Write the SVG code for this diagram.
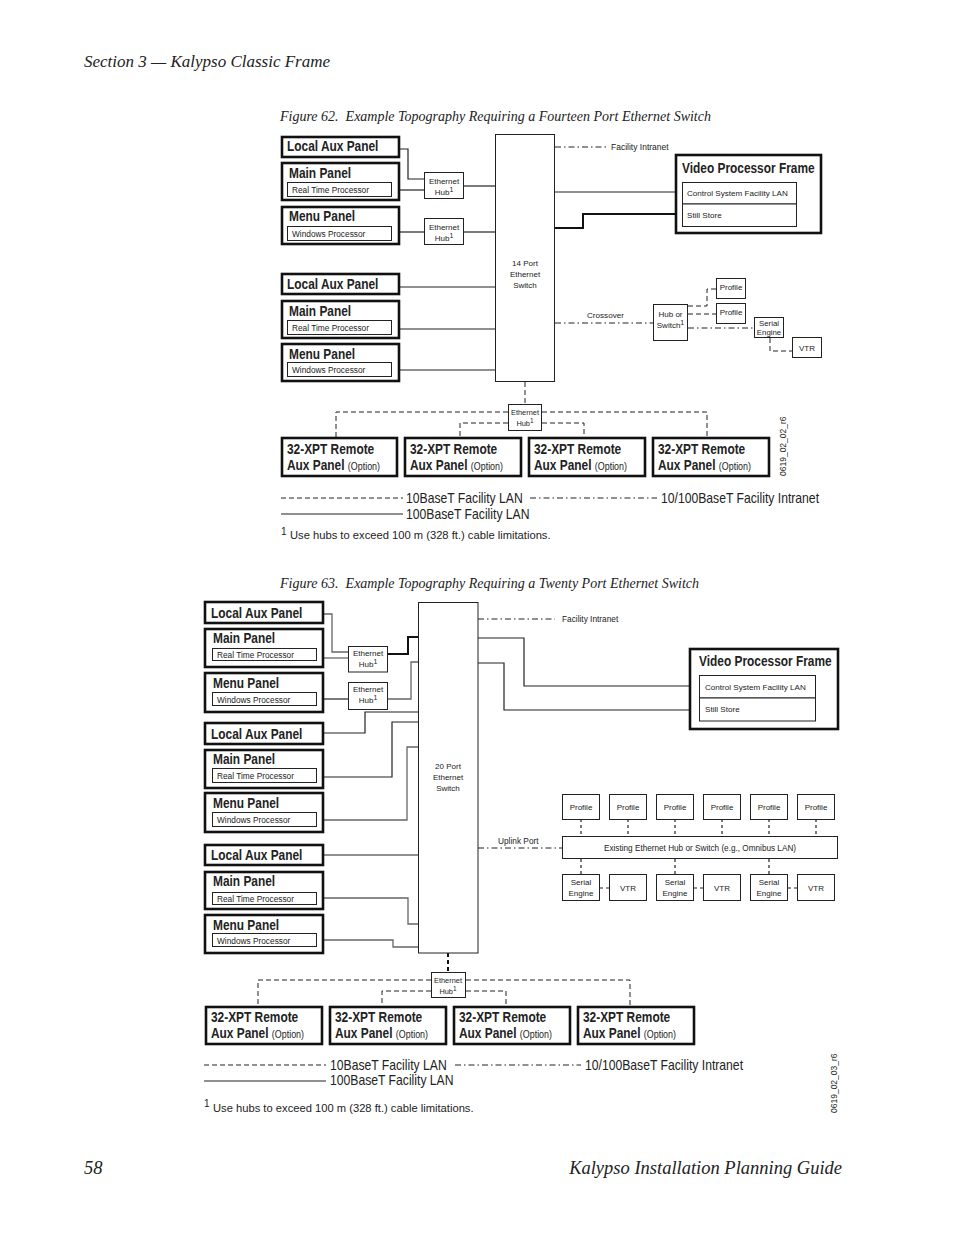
<svg xmlns="http://www.w3.org/2000/svg" width="954" height="1235" viewBox="0 0 954 1235">
<defs>
<style>
.pg{font-family:'Liberation Serif',serif;font-style:italic;fill:#222}
.t{font-family:'Liberation Sans',Arial,sans-serif;fill:#222}
.b{font-weight:bold;font-size:14px;transform-box:fill-box;transform-origin:0 50%;transform:scaleX(.85)}
.lg{font-size:14.5px;transform-box:fill-box;transform-origin:0 50%;transform:scaleX(.84)}
.s{font-size:8.3px}
.xs{font-size:8px}
.h{font-size:7.4px}
.c{text-anchor:middle}
.thick{fill:#fff;stroke:#111;stroke-width:2.6}
.thin{fill:#fff;stroke:#222;stroke-width:1}
.ln{fill:none;stroke:#222;stroke-width:1.2}
.lb{fill:none;stroke:#111;stroke-width:2}
.gl{fill:none;stroke:#666;stroke-width:1.3}
.dash{fill:none;stroke:#222;stroke-width:1;stroke-dasharray:5 3}
.dd{fill:none;stroke:#222;stroke-width:1;stroke-dasharray:6 3 1.5 3}
.dot{fill:none;stroke:#222;stroke-width:1.2;stroke-dasharray:3 3}
.dv{fill:none;stroke:#111;stroke-width:2;stroke-dasharray:4 3}
</style>
</defs>
<rect width="954" height="1235" fill="#fff"/>

<text class="pg" x="84" y="67" font-size="17">Section 3 — Kalypso Classic Frame</text>
<text class="pg" x="84" y="1174" font-size="18.5">58</text>
<text class="pg" x="842" y="1174" font-size="18.5" text-anchor="end">Kalypso Installation Planning Guide</text>

<!-- ================= Figure 62 ================= -->
<text class="pg" x="280" y="121" font-size="14">Figure 62.&#160; Example Topography Requiring a Fourteen Port Ethernet Switch</text>

<g id="f62-connectors">
<path class="ln" d="M399,149 H408 V179 H424"/>
<path class="ln" d="M392,190 H424"/>
<path class="ln" d="M464,186 H495"/>
<path class="ln" d="M392,232 H424"/>
<path class="ln" d="M464,232 H495"/>
<path class="ln" d="M399,287 H495"/>
<path class="ln" d="M392,329 H495"/>
<path class="ln" d="M392,370 H495"/>
<path class="dd" d="M555,147 H607"/>
<path class="ln" d="M555,192 H682"/>
<path class="lb" d="M555,228 H583 V214 H682"/>
<path class="dd" d="M555,323 H653"/>
<path class="dash" d="M688,306 H707 V289 H716"/>
<path class="dash" d="M688,314 H716"/>
<path class="dd" d="M688,328 H754"/>
<path class="dash" d="M770,338 V351 H792"/>
<path class="dash" d="M525,382 V404" stroke-width="1.4"/>
<path class="dash" d="M508,412 H336 V437"/>
<path class="dash" d="M542,412 H707 V437"/>
<path class="dash" d="M508,423 H460 V437"/>
<path class="dash" d="M542,423 H584 V437"/>
</g>

<g id="f62-localaux1"><rect class="thick" x="282" y="137" width="117" height="20"/><text class="t b" x="287" y="151">Local Aux Panel</text></g>
<g id="f62-main1"><rect class="thick" x="282" y="163" width="117" height="37"/><text class="t b" x="289" y="178">Main Panel</text><rect class="thin" x="287.5" y="182.5" width="104" height="14"/><text class="t s" x="292" y="193">Real Time Processor</text></g>
<g id="f62-menu1"><rect class="thick" x="282" y="207" width="117" height="37"/><text class="t b" x="289" y="221">Menu Panel</text><rect class="thin" x="287.5" y="226.5" width="104" height="14"/><text class="t s" x="292" y="237">Windows Processor</text></g>
<g id="f62-hub1"><rect class="thin" x="424.5" y="172.5" width="39" height="26"/><text class="t xs c" x="444" y="184">Ethernet</text><text class="t xs c" x="444" y="194.5">Hub<tspan font-size="7" dy="-3">1</tspan></text></g>
<g id="f62-hub2"><rect class="thin" x="424.5" y="218.5" width="39" height="26"/><text class="t xs c" x="444" y="230">Ethernet</text><text class="t xs c" x="444" y="240.5">Hub<tspan font-size="7" dy="-3">1</tspan></text></g>
<g id="f62-localaux2"><rect class="thick" x="282" y="274" width="117" height="20"/><text class="t b" x="287" y="289">Local Aux Panel</text></g>
<g id="f62-main2"><rect class="thick" x="282" y="301" width="117" height="37"/><text class="t b" x="289" y="316">Main Panel</text><rect class="thin" x="287.5" y="320.5" width="104" height="14"/><text class="t s" x="292" y="331">Real Time Processor</text></g>
<g id="f62-menu2"><rect class="thick" x="282" y="344" width="117" height="37"/><text class="t b" x="289" y="359">Menu Panel</text><rect class="thin" x="287.5" y="362.5" width="104" height="14"/><text class="t s" x="292" y="373">Windows Processor</text></g>
<g id="f62-switch"><rect class="thin" x="495.5" y="134.5" width="59" height="247"/><text class="t xs c" x="525" y="266">14 Port</text><text class="t xs c" x="525" y="277">Ethernet</text><text class="t xs c" x="525" y="288">Switch</text></g>
<text class="t" font-size="8.5" x="611" y="150">Facility Intranet</text>
<g id="f62-vpf"><rect class="thick" x="676" y="155" width="145" height="78"/><text class="t b" x="682" y="173">Video Processor Frame</text><rect class="thin" x="682.5" y="182.5" width="114" height="21.5"/><text class="t" font-size="8.1" x="687" y="196">Control System Facility LAN</text><rect class="thin" x="682.5" y="204" width="114" height="22.5"/><text class="t" font-size="8.1" x="687" y="218">Still Store</text></g>
<text class="t" font-size="8.1" x="587" y="318">Crossover</text>
<g id="f62-hubsw"><rect class="thin" x="653.5" y="304.5" width="34" height="36"/><text class="t xs c" x="670.5" y="317">Hub or</text><text class="t xs c" x="670.5" y="328">Switch<tspan font-size="7" dy="-3">1</tspan></text></g>
<g id="f62-profile1"><rect class="thin" x="716.5" y="278.5" width="29" height="20"/><text class="t xs c" x="731" y="290">Profile</text></g>
<g id="f62-profile2"><rect class="thin" x="716.5" y="303.5" width="29" height="20"/><text class="t xs c" x="731" y="315">Profile</text></g>
<g id="f62-serial"><rect class="thin" x="754.5" y="317.5" width="29" height="20"/><text class="t c" font-size="7.8" x="769" y="325.5">Serial</text><text class="t c" font-size="7.8" x="769" y="334.5">Engine</text></g>
<g id="f62-vtr"><rect class="thin" x="792.5" y="337.5" width="29" height="20"/><text class="t xs c" x="807" y="351">VTR</text></g>
<g id="f62-hub3"><rect class="thin" x="508.5" y="404.5" width="33" height="26"/><text class="t h c" x="525" y="415">Ethernet</text><text class="t h c" x="525" y="426">Hub<tspan font-size="6.5" dy="-3">1</tspan></text></g>
<g id="f62-xpt1"><rect class="thick" x="282" y="438" width="115" height="38"/><text class="t b" x="287" y="454">32-XPT Remote</text><text class="t b" x="287" y="470">Aux Panel <tspan font-weight="normal" font-size="10.5">(Option)</tspan></text></g>
<g id="f62-xpt2"><rect class="thick" x="405" y="438" width="116" height="38"/><text class="t b" x="410" y="454">32-XPT Remote</text><text class="t b" x="410" y="470">Aux Panel <tspan font-weight="normal" font-size="10.5">(Option)</tspan></text></g>
<g id="f62-xpt3"><rect class="thick" x="529" y="438" width="116" height="38"/><text class="t b" x="534" y="454">32-XPT Remote</text><text class="t b" x="534" y="470">Aux Panel <tspan font-weight="normal" font-size="10.5">(Option)</tspan></text></g>
<g id="f62-xpt4"><rect class="thick" x="653" y="438" width="116" height="38"/><text class="t b" x="658" y="454">32-XPT Remote</text><text class="t b" x="658" y="470">Aux Panel <tspan font-weight="normal" font-size="10.5">(Option)</tspan></text></g>
<text class="t" font-size="8.5" transform="translate(786,476) rotate(-90)">0619_02_02_r6</text>

<g id="f62-legend">
<path class="dash" d="M281,498 H403"/>
<text class="t lg" x="406" y="503">10BaseT Facility LAN</text>
<path class="dd" d="M530,498 H657"/>
<text class="t lg" x="661" y="503">10/100BaseT Facility Intranet</text>
<path class="ln" d="M281,514 H403"/>
<text class="t lg" x="406" y="519">100BaseT Facility LAN</text>
<text class="t" font-size="10" x="281" y="535">1</text>
<text class="t" font-size="11.2" x="290" y="539">Use hubs to exceed 100 m (328 ft.) cable limitations.</text>
</g>

<!-- ================= Figure 63 ================= -->
<text class="pg" x="280" y="588" font-size="14">Figure 63.&#160; Example Topography Requiring a Twenty Port Ethernet Switch</text>

<g id="f63-connectors">
<path class="gl" d="M323,614 H332 V652 H348"/>
<path class="gl" d="M316,658 H348"/>
<path class="lb" d="M388,654 H408 V637 H418"/>
<path class="ln" d="M316,699 H348"/>
<path class="gl" d="M388,699 H411 V662 H418"/>
<path class="ln" d="M323,733 H365 V712 H418"/>
<path class="ln" d="M316,777 H392 V722 H418"/>
<path class="gl" d="M316,820 H407 V747 H418"/>
<path class="ln" d="M323,855 H418"/>
<path class="gl" d="M316,898 H408 V924 H418"/>
<path class="gl" d="M316,940 H393 V947 H418"/>
<path class="dd" d="M478,619 H555"/>
<path class="ln" d="M478,638 H524 V686 H699"/>
<path class="ln" d="M478,663 H504 V710 H699"/>
<path class="dd" d="M478,848 H562"/>
<path class="dot" d="M581,819 V836"/>
<path class="dot" d="M628,819 V836"/>
<path class="dot" d="M675,819 V836"/>
<path class="dot" d="M722,819 V836"/>
<path class="dot" d="M769,819 V836"/>
<path class="dot" d="M816,819 V836"/>
<path class="dot" d="M581,859 V874"/>
<path class="dot" d="M675,859 V874"/>
<path class="dot" d="M769,859 V874"/>
<path class="dot" d="M600,888 H609"/>
<path class="dot" d="M694,888 H703"/>
<path class="dot" d="M788,888 H797"/>
<path class="dv" d="M448,953 V972"/>
<path class="dash" d="M431,980 H258 V1007"/>
<path class="dash" d="M466,980 H630 V1007"/>
<path class="dash" d="M431,991 H382 V1007"/>
<path class="dash" d="M466,991 H506 V1007"/>
</g>

<g id="f63-localaux1"><rect class="thick" x="205" y="602" width="118" height="21"/><text class="t b" x="211" y="618">Local Aux Panel</text></g>
<g id="f63-main1"><rect class="thick" x="205" y="629" width="118" height="38"/><text class="t b" x="213" y="643">Main Panel</text><rect class="thin" x="212.5" y="648.5" width="104" height="12"/><text class="t s" x="217" y="658">Real Time Processor</text></g>
<g id="f63-menu1"><rect class="thick" x="205" y="673" width="118" height="39"/><text class="t b" x="213" y="688">Menu Panel</text><rect class="thin" x="212.5" y="692.5" width="104" height="13"/><text class="t s" x="217" y="702.5">Windows Processor</text></g>
<g id="f63-hub1"><rect class="thin" x="348.5" y="646.5" width="39" height="25.5"/><text class="t xs c" x="368" y="656">Ethernet</text><text class="t xs c" x="368" y="667">Hub<tspan font-size="7" dy="-3">1</tspan></text></g>
<g id="f63-hub2"><rect class="thin" x="348.5" y="682.5" width="39" height="27"/><text class="t xs c" x="368" y="692">Ethernet</text><text class="t xs c" x="368" y="703">Hub<tspan font-size="7" dy="-3">1</tspan></text></g>
<g id="f63-localaux2"><rect class="thick" x="205" y="723" width="118" height="21"/><text class="t b" x="211" y="739">Local Aux Panel</text></g>
<g id="f63-main2"><rect class="thick" x="205" y="750" width="118" height="38"/><text class="t b" x="213" y="764">Main Panel</text><rect class="thin" x="212.5" y="768.5" width="104" height="14"/><text class="t s" x="217" y="779">Real Time Processor</text></g>
<g id="f63-menu2"><rect class="thick" x="205" y="793" width="118" height="39"/><text class="t b" x="213" y="808">Menu Panel</text><rect class="thin" x="212.5" y="812.5" width="104" height="14"/><text class="t s" x="217" y="823">Windows Processor</text></g>
<g id="f63-localaux3"><rect class="thick" x="205" y="845" width="118" height="20"/><text class="t b" x="211" y="860">Local Aux Panel</text></g>
<g id="f63-main3"><rect class="thick" x="205" y="872" width="118" height="37"/><text class="t b" x="213" y="886">Main Panel</text><rect class="thin" x="212.5" y="892.5" width="104" height="12"/><text class="t s" x="217" y="902">Real Time Processor</text></g>
<g id="f63-menu3"><rect class="thick" x="205" y="915" width="118" height="38"/><text class="t b" x="213" y="930">Menu Panel</text><rect class="thin" x="212.5" y="933.5" width="104" height="13"/><text class="t s" x="217" y="943.5">Windows Processor</text></g>
<g id="f63-switch"><rect class="thin" x="418.5" y="602.5" width="59.5" height="350.5"/><text class="t xs c" x="448" y="769">20 Port</text><text class="t xs c" x="448" y="780">Ethernet</text><text class="t xs c" x="448" y="791">Switch</text></g>
<text class="t" font-size="8.3" x="562" y="622">Facility Intranet</text>
<g id="f63-vpf"><rect class="thick" x="690" y="649" width="148" height="80"/><text class="t b" x="699" y="666">Video Processor Frame</text><rect class="thin" x="699.5" y="675.5" width="116" height="22.5"/><text class="t" font-size="8.1" x="705" y="690">Control System Facility LAN</text><rect class="thin" x="699.5" y="698" width="116" height="23"/><text class="t" font-size="8.1" x="705" y="712">Still Store</text></g>
<g id="f63-profile1"><rect class="thin" x="562.5" y="794.5" width="37" height="25"/><text class="t xs c" x="581" y="810">Profile</text></g>
<g id="f63-profile2"><rect class="thin" x="609.5" y="794.5" width="37" height="25"/><text class="t xs c" x="628" y="810">Profile</text></g>
<g id="f63-profile3"><rect class="thin" x="656.5" y="794.5" width="37" height="25"/><text class="t xs c" x="675" y="810">Profile</text></g>
<g id="f63-profile4"><rect class="thin" x="703.5" y="794.5" width="37" height="25"/><text class="t xs c" x="722" y="810">Profile</text></g>
<g id="f63-profile5"><rect class="thin" x="750.5" y="794.5" width="37" height="25"/><text class="t xs c" x="769" y="810">Profile</text></g>
<g id="f63-profile6"><rect class="thin" x="797.5" y="794.5" width="37" height="25"/><text class="t xs c" x="816" y="810">Profile</text></g>
<text class="t" font-size="8.3" x="498" y="844">Uplink Port</text>
<g id="f63-existinghub"><rect class="thin" x="562.5" y="836.5" width="275" height="22"/><text class="t c" font-size="8.2" x="700" y="851">Existing Ethernet Hub or Switch (e.g., Omnibus LAN)</text></g>
<g id="f63-serial1"><rect class="thin" x="562.5" y="874.5" width="37" height="26"/><text class="t xs c" x="581" y="885">Serial</text><text class="t xs c" x="581" y="896">Engine</text></g>
<g id="f63-vtr1"><rect class="thin" x="609.5" y="874.5" width="37" height="26"/><text class="t xs c" x="628" y="891">VTR</text></g>
<g id="f63-serial2"><rect class="thin" x="656.5" y="874.5" width="37" height="26"/><text class="t xs c" x="675" y="885">Serial</text><text class="t xs c" x="675" y="896">Engine</text></g>
<g id="f63-vtr2"><rect class="thin" x="703.5" y="874.5" width="37" height="26"/><text class="t xs c" x="722" y="891">VTR</text></g>
<g id="f63-serial3"><rect class="thin" x="750.5" y="874.5" width="37" height="26"/><text class="t xs c" x="769" y="885">Serial</text><text class="t xs c" x="769" y="896">Engine</text></g>
<g id="f63-vtr3"><rect class="thin" x="797.5" y="874.5" width="37" height="26"/><text class="t xs c" x="816" y="891">VTR</text></g>
<g id="f63-hub3"><rect class="thin" x="431.5" y="972.5" width="34" height="25"/><text class="t h c" x="448" y="982.5">Ethernet</text><text class="t h c" x="448" y="993.5">Hub<tspan font-size="6.5" dy="-3">1</tspan></text></g>
<g id="f63-xpt1"><rect class="thick" x="206" y="1007" width="116" height="37"/><text class="t b" x="211" y="1022">32-XPT Remote</text><text class="t b" x="211" y="1038">Aux Panel <tspan font-weight="normal" font-size="10.5">(Option)</tspan></text></g>
<g id="f63-xpt2"><rect class="thick" x="330" y="1007" width="116" height="37"/><text class="t b" x="335" y="1022">32-XPT Remote</text><text class="t b" x="335" y="1038">Aux Panel <tspan font-weight="normal" font-size="10.5">(Option)</tspan></text></g>
<g id="f63-xpt3"><rect class="thick" x="454" y="1007" width="116" height="37"/><text class="t b" x="459" y="1022">32-XPT Remote</text><text class="t b" x="459" y="1038">Aux Panel <tspan font-weight="normal" font-size="10.5">(Option)</tspan></text></g>
<g id="f63-xpt4"><rect class="thick" x="578" y="1007" width="116" height="37"/><text class="t b" x="583" y="1022">32-XPT Remote</text><text class="t b" x="583" y="1038">Aux Panel <tspan font-weight="normal" font-size="10.5">(Option)</tspan></text></g>

<g id="f63-legend">
<path class="dash" d="M204,1065 H326"/>
<text class="t lg" x="330" y="1070">10BaseT Facility LAN</text>
<path class="dd" d="M455,1065 H581"/>
<text class="t lg" x="585" y="1070">10/100BaseT Facility Intranet</text>
<path class="ln" d="M204,1081 H326"/>
<text class="t lg" x="330" y="1085">100BaseT Facility LAN</text>
<text class="t" font-size="10" x="204" y="1107">1</text>
<text class="t" font-size="11.2" x="213" y="1112">Use hubs to exceed 100 m (328 ft.) cable limitations.</text>
</g>
<text class="t" font-size="8.5" transform="translate(837,1113) rotate(-90)">0619_02_03_r6</text>
</svg>
